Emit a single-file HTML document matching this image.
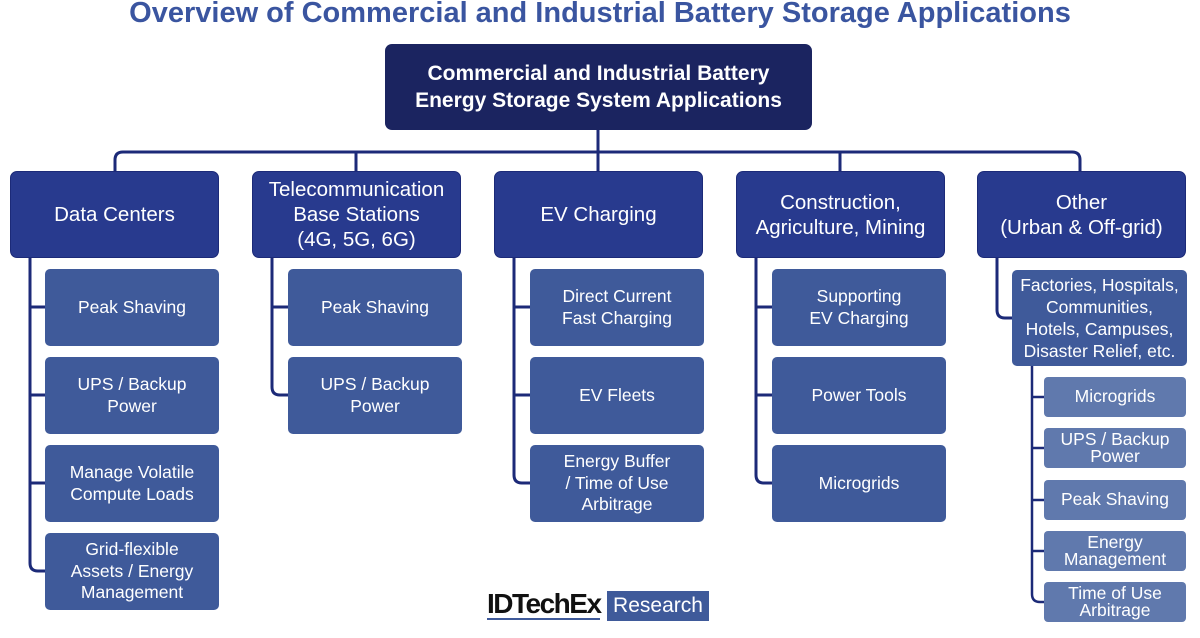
<!DOCTYPE html>
<html><head><meta charset="utf-8"><style>
body{margin:0;width:1200px;height:638px;background:#fff;position:relative;overflow:hidden;font-family:"Liberation Sans",Arial,sans-serif}
.b{position:absolute;display:flex;align-items:center;justify-content:center;text-align:center;color:#fff;box-sizing:border-box;border-radius:7px;line-height:1.25}
.t{left:0;width:1200px;top:-3px;position:absolute;text-align:center;font-weight:bold;font-size:29px;color:#3a55a0}
.top{background:#1b2460;font-weight:bold;font-size:21px;left:385px;top:44px;width:427px;height:86px;line-height:1.3}
.c{background:#283a8e;font-size:20.5px;top:171px;width:209px;height:87px;border:1px solid #1c2a78;line-height:1.22}
.s{background:#3f5a9a;font-size:17.5px;width:174px;height:77px;border-radius:5px}
.o{background:#6079ad;font-size:17.5px;left:1044px;width:142px;height:40px;line-height:1;border-radius:4px}
</style></head><body>
<div class="t">Overview of Commercial and Industrial Battery Storage Applications</div>
<svg width="1200" height="638" style="position:absolute;left:0;top:0" fill="none" stroke="#1c2a78" stroke-width="3">
<path d="M598 130V171"/>
<path d="M115 171V160Q115 152 123 152H1072Q1080 152 1080 160V171"/>
<path d="M356 152V171M840 152V171"/>
<path d="M30 258V563Q30 571 38 571H45M30 307H45M30 395H45M30 483H45"/>
<path d="M272 258V387Q272 395 280 395H288M272 307H288"/>
<path d="M514 258V475Q514 483 522 483H530M514 307H530M514 395H530"/>
<path d="M756 258V475Q756 483 764 483H772M756 307H772M756 395H772"/>
<path d="M997 258V310Q997 318 1005 318H1012"/>
<path d="M1032 366V594Q1032 602 1040 602H1044M1032 397H1044M1032 448H1044M1032 500H1044M1032 551H1044" stroke-width="2.5"/>
</svg>
<div class="b top">Commercial and Industrial Battery<br>Energy Storage System Applications</div>
<div class="b c" style="left:10px">Data Centers</div>
<div class="b c" style="left:252px">Telecommunication<br>Base Stations<br>(4G, 5G, 6G)</div>
<div class="b c" style="left:494px">EV Charging</div>
<div class="b c" style="left:736px">Construction,<br>Agriculture, Mining</div>
<div class="b c" style="left:977px">Other<br>(Urban &amp; Off-grid)</div>

<div class="b s" style="left:45px;top:269px">Peak Shaving</div>
<div class="b s" style="left:45px;top:357px">UPS / Backup<br>Power</div>
<div class="b s" style="left:45px;top:445px">Manage Volatile<br>Compute Loads</div>
<div class="b s" style="left:45px;top:533px">Grid-flexible<br>Assets / Energy<br>Management</div>

<div class="b s" style="left:288px;top:269px">Peak Shaving</div>
<div class="b s" style="left:288px;top:357px">UPS / Backup<br>Power</div>

<div class="b s" style="left:530px;top:269px">Direct Current<br>Fast Charging</div>
<div class="b s" style="left:530px;top:357px">EV Fleets</div>
<div class="b s" style="left:530px;top:445px">Energy Buffer<br>/ Time of Use<br>Arbitrage</div>

<div class="b s" style="left:772px;top:269px">Supporting<br>EV Charging</div>
<div class="b s" style="left:772px;top:357px">Power Tools</div>
<div class="b s" style="left:772px;top:445px">Microgrids</div>

<div class="b s" style="left:1012px;top:270px;width:175px;height:96px;line-height:1.27">Factories, Hospitals,<br>Communities,<br>Hotels, Campuses,<br>Disaster Relief, etc.</div>
<div class="b o" style="top:377px">Microgrids</div>
<div class="b o" style="top:428px">UPS / Backup<br>Power</div>
<div class="b o" style="top:480px">Peak Shaving</div>
<div class="b o" style="top:531px">Energy<br>Management</div>
<div class="b o" style="top:582px">Time of Use<br>Arbitrage</div>

<div style="position:absolute;left:487px;top:590px;width:113px;font-size:28px;font-weight:bold;color:#111;letter-spacing:-1.5px;border-bottom:2px solid #3f5a9a;line-height:28px;white-space:nowrap">IDTechEx</div>
<div style="position:absolute;left:607px;top:591px;width:102px;height:30px;background:#3f5a9a;color:#fff;font-size:21px;line-height:30px;text-align:center">Research</div>
</body></html>
